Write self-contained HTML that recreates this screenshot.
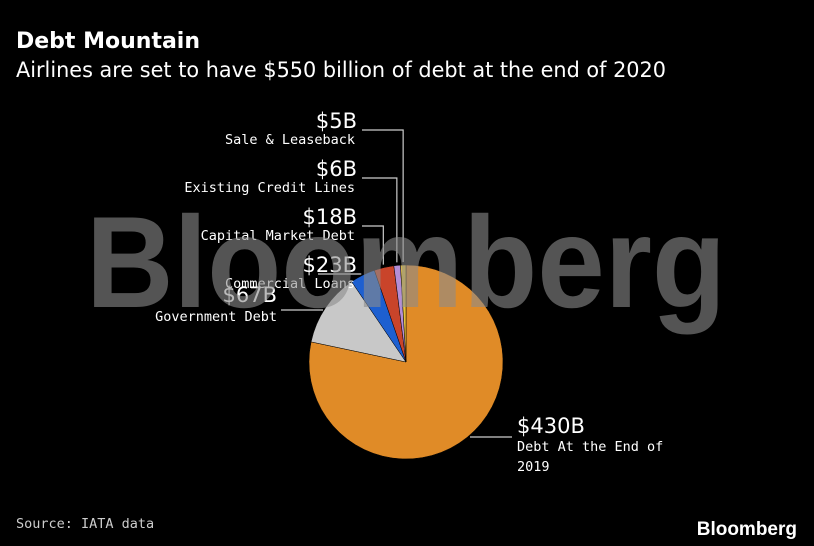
<!DOCTYPE html>
<html><head><meta charset="utf-8"><style>
html,body{margin:0;padding:0;background:#000;}
svg{display:block;}
text{font-family:"DejaVu Sans","Liberation Sans",sans-serif;}
.mono{font-family:"DejaVu Sans Mono","Liberation Mono",monospace;}
.lib{font-family:"Liberation Sans",Arial,sans-serif;}
</style></head><body>
<svg id="chart" width="814" height="546" viewBox="0 0 814 546">
<rect width="814" height="546" fill="#000"/>
<text x="16" y="48" fill="#fff" font-size="22" font-weight="bold">Debt Mountain</text>
<text x="16" y="77" fill="#fff" font-size="21" textLength="650" lengthAdjust="spacingAndGlyphs">Airlines are set to have $550 billion of debt at the end of 2020</text>
<g id="slices"></g>
<g id="labels"></g>
<text x="406" y="307" class="lib" fill="#8c8c8c" fill-opacity="0.6" font-size="130" font-weight="bold" text-anchor="middle" textLength="640" lengthAdjust="spacingAndGlyphs">Bloomberg</text>
<text x="16" y="528" fill="#ccc" font-size="13.5" class="mono">Source: IATA data</text>
<text x="797" y="535" class="lib" fill="#fff" font-size="19" font-weight="bold" text-anchor="end">Bloomberg</text>
</svg>
<script>
const categories = ["Debt At the End of 2019","Government Debt","Commercial Loans","Capital Market Debt","Existing Credit Lines","Sale & Leaseback"];
const values = [430,67,23,18,6,5];
const valueLabels = ["$430B","$67B","$23B","$18B","$6B","$5B"];
const colors = ["#e08b27","#c8c8c8","#1d5fd0","#c9442a","#b48ed6","#e8c23a"];
const NS="http://www.w3.org/2000/svg";
const cx=406, cy=362, r=97;
const total=values.reduce((a,b)=>a+b,0);
function angleOf(v){return v/total*2*Math.PI;}
function pt(a,rr){return [cx+rr*Math.sin(a), cy-rr*Math.cos(a)];}
const sg=document.getElementById('slices');
let acc=0;
const mids=[];
values.forEach((v,i)=>{
  const a0=angleOf(acc), a1=angleOf(acc+v); acc+=v;
  const p0=pt(a0,r), p1=pt(a1,r);
  const large=(a1-a0)>Math.PI?1:0;
  const p=document.createElementNS(NS,'path');
  p.setAttribute('d',`M${cx},${cy}L${p0[0]},${p0[1]}A${r},${r} 0 ${large} 1 ${p1[0]},${p1[1]}Z`);
  p.setAttribute('fill',colors[i]);
  p.setAttribute('stroke','#000');p.setAttribute('stroke-width','0.5');
  
  
  sg.appendChild(p);
  mids.push((a0+a1)/2);
});
const lg=document.getElementById('labels');
function mk(tag,attrs,txt){const e=document.createElementNS(NS,tag);for(const k in attrs)e.setAttribute(k,attrs[k]);if(txt)e.textContent=txt;lg.appendChild(e);return e;}
const lyBase={5:128,4:176,3:224,2:272,1:302};
[5,4,3,2].forEach(i=>{
  const y=lyBase[i];
  const t1=mk('text',{x:357,y:y,fill:'#fff','font-size':21,'text-anchor':'end'},valueLabels[i]);
  
  
  const t2=mk('text',{x:355,y:y+16,fill:'#fff','font-size':13.5,'text-anchor':'end',class:'mono'},categories[i]);
  
  
  const e=pt(mids[i],r+3);
  const ly=y+2;
  const pl=mk('polyline',{points:`${362},${ly} ${e[0]},${ly} ${e[0]},${e[1]}`,fill:'none',stroke:'#ccc','stroke-width':1.2});
  if(i===2){pl.setAttribute('points',`318,${ly} ${e[0]},${ly}`);}
  
  
});
{
  const t1=mk('text',{x:277,y:302,fill:'#fff','font-size':21,'text-anchor':'end'},valueLabels[1]);
  
  
  const t2=mk('text',{x:277,y:321,fill:'#fff','font-size':13.5,'text-anchor':'end',class:'mono'},categories[1]);
  
  
  const e=pt(mids[1],r+3);
  const l=mk('line',{x1:281,y1:310,x2:e[0],y2:310,stroke:'#ccc','stroke-width':1.2});
  
  
}
{
  const t1=mk('text',{x:517,y:433,fill:'#fff','font-size':21},valueLabels[0]);
  
  
  const t2=mk('text',{x:517,y:451,fill:'#fff','font-size':13.5,class:'mono'},"Debt At the End of");
  
  
  const t3=mk('text',{x:517,y:471,fill:'#fff','font-size':13.5,class:'mono'},"2019");
  
  
  const l=mk('line',{x1:470,y1:437,x2:512,y2:437,stroke:'#ccc','stroke-width':1.2});
  
  
}
</script>
</body></html>
